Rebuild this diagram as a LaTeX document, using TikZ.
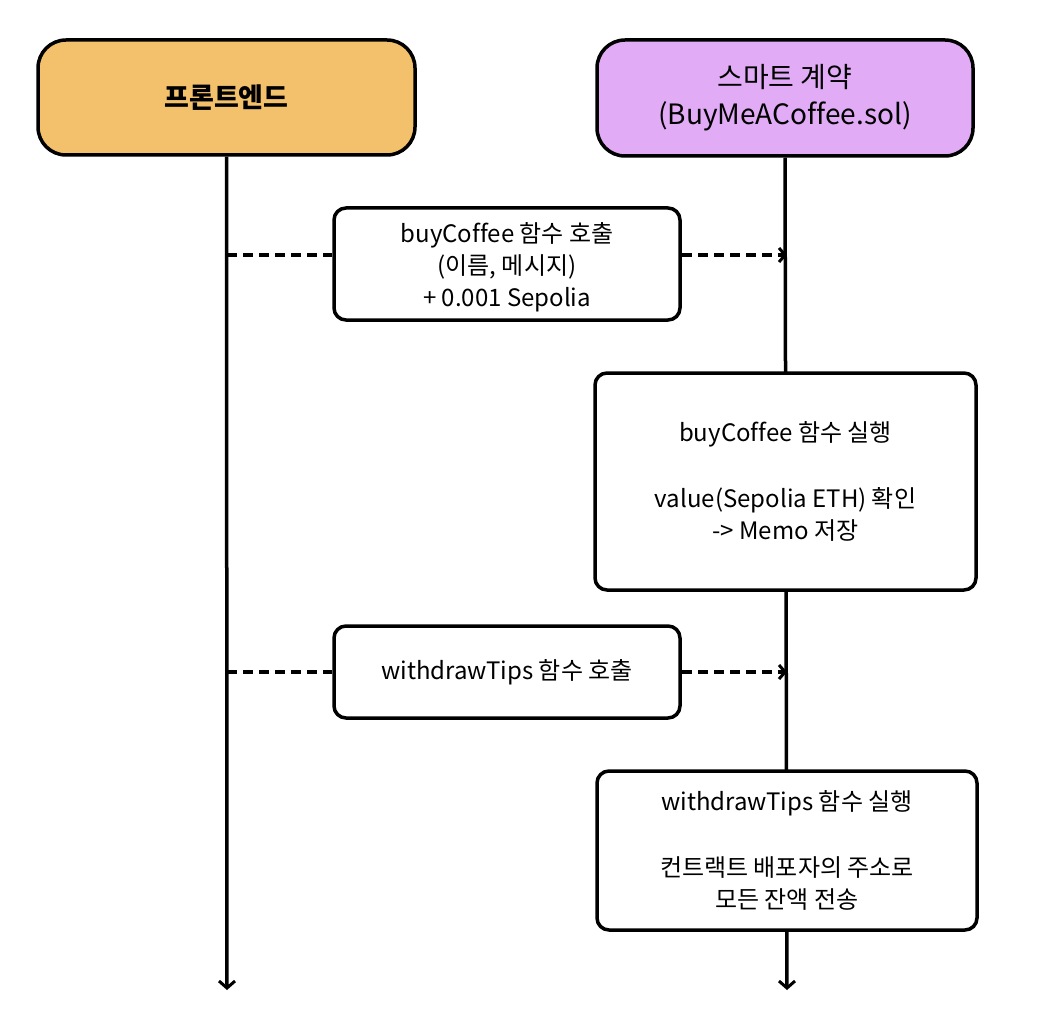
\documentclass[tikz,border=0pt]{standalone}
\usepackage{fontspec}
\setmainfont[Ligatures=NoCommon]{Noto Sans CJK KR}
\usetikzlibrary{arrows.meta}
\definecolor{feorange}{HTML}{F3C16B}
\definecolor{scpurple}{HTML}{E1ABF6}
\begin{document}
\begin{tikzpicture}[x=1pt,y=-1pt,
  every node/.style={font=\fontsize{24}{32}\selectfont, align=center, inner sep=0pt},
  header/.style={draw=black, line width=3.5pt, rounded corners=28pt, font=\fontsize{28}{37}\selectfont},
  msgbox/.style={draw=black, fill=white, line width=3.5pt, rounded corners=12pt},
  life/.style={line width=3.5pt, -{Straight Barb[length=7pt,width=16pt,line width=3pt]}},
  call/.style={line width=3.5pt, dash pattern=on 10pt off 6pt},
  callarrow/.style={call, -{Straight Barb[length=6pt,width=14pt,line width=3pt]}}
]
\useasboundingbox (0,0) rectangle (1038,1032);
\fill[white] (0,0) rectangle (1038,1032);

% headers
\node[header, fill=feorange, minimum width=377pt, minimum height=115pt] (fe) at (226.5,97.5) {\bfseries\fontsize{27}{37}\selectfont 프론트엔드};
\node[header, fill=scpurple, minimum width=376pt, minimum height=116pt] (sc) at (785,98) {\rule{0pt}{20pt}스마트 계약\\(BuyMeACoffee.sol)};

% lifeline ends
\coordinate (feend) at (227,990);
\coordinate (scend) at (787,990);

% lifelines
\draw[life] (fe.south) -- (feend);
\draw[life] (sc.south) -- (scend);

% boxes
\node[msgbox, minimum width=346pt, minimum height=112pt] (call1) at (507,264) {\rule{0pt}{26pt}buyCoffee 함수 호출\\(이름, 메시지)\\+ 0.001 Sepolia};
\node[msgbox, minimum width=381pt, minimum height=217pt] (exec1) at (785.5,481.5) {buyCoffee 함수 실행\\[34pt]value(Sepolia ETH) 확인\\-> Memo 저장};
\node[msgbox, minimum width=346pt, minimum height=92pt] (call2) at (507,672) {withdrawTips 함수 호출};
\node[msgbox, minimum width=380pt, minimum height=159pt] (exec2) at (787,850.5) {withdrawTips 함수 실행\\[34pt]컨트랙트 배포자의 주소로\\모든 잔액 전송};

% call connectors
\coordinate (c1s) at (227,255);
\coordinate (c1e) at (787,255);
\coordinate (c2s) at (227,672);
\coordinate (c2e) at (787,672);
\draw[call] (c1s) -- (call1.west |- c1s);
\draw[callarrow] (call1.east |- c1e) -- (c1e);
\draw[call] (c2s) -- (call2.west);
\draw[callarrow] (call2.east) -- (c2e);
\end{tikzpicture}
\end{document}
